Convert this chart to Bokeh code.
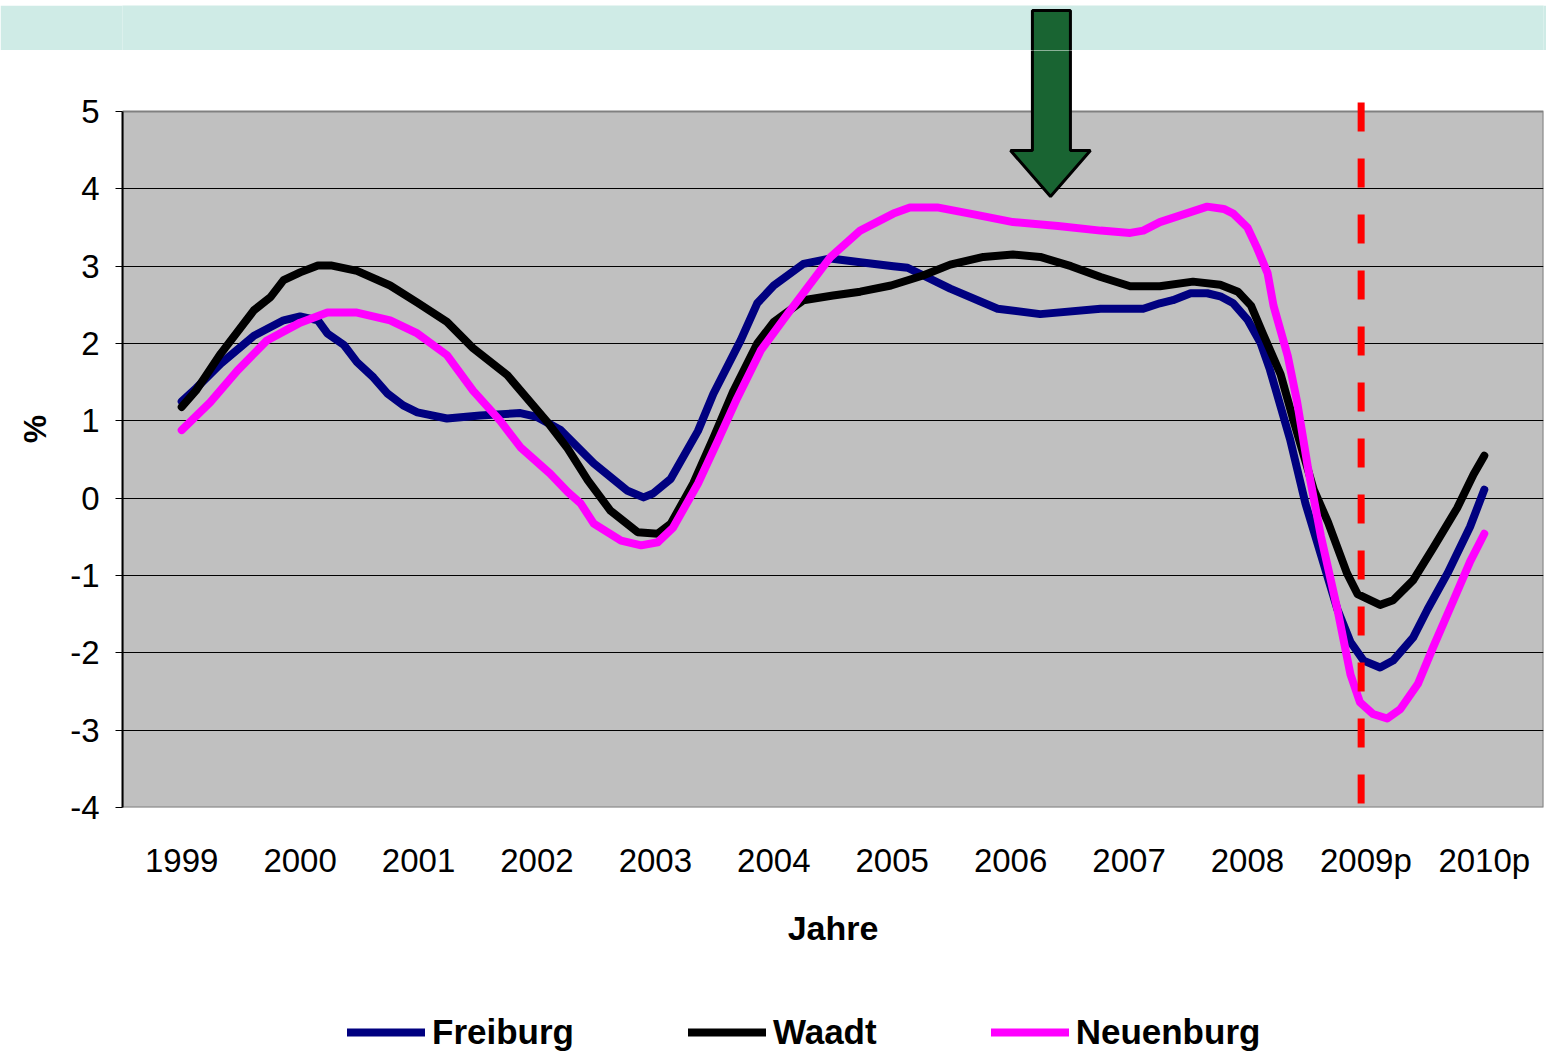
from bokeh.plotting import figure
from bokeh.layouts import column
from bokeh.models import FixedTicker, Legend, LegendItem, Range1d, Spacer
from bokeh.embed import file_html
from bokeh.resources import INLINE

# ---------------- data ----------------
years = ["1999", "2000", "2001", "2002", "2003", "2004", "2005",
         "2006", "2007", "2008", "2009p", "2010p"]
y_ticks = [-4, -3, -2, -1, 0, 1, 2, 3, 4, 5]
y_tick_labels = ["-4", "-3", "-2", "-1", "0", "1", "2", "3", "4", "5"]

# time positions (years after 1999) and growth rates (%)
freiburg_t = [0.00, 0.12, 0.33, 0.61, 0.86, 1.00, 1.15, 1.23, 1.37, 1.48,
              1.62, 1.74, 1.87, 1.99, 2.24, 2.52, 2.86, 3.00, 3.20, 3.48,
              3.76, 3.90, 3.98, 4.13, 4.36, 4.49, 4.72, 4.86, 5.00, 5.25,
              5.48, 5.73, 6.01, 6.13, 6.49, 6.89, 7.25, 7.76, 8.12, 8.26,
              8.37, 8.52, 8.66, 8.77, 8.88, 9.00, 9.11, 9.19, 9.36, 9.49,
              9.62, 9.76, 9.87, 9.98, 10.12, 10.23, 10.40, 10.52, 10.69, 10.88,
              11.00]
freiburg = [1.25, 1.42, 1.74, 2.10, 2.30, 2.35, 2.30, 2.13, 1.98, 1.76,
            1.56, 1.35, 1.20, 1.11, 1.03, 1.07, 1.10, 1.05, 0.88, 0.45,
            0.10, 0.01, 0.06, 0.25, 0.87, 1.35, 2.04, 2.52, 2.75, 3.03,
            3.10, 3.05, 3.00, 2.98, 2.71, 2.45, 2.38, 2.45, 2.45, 2.52,
            2.56, 2.65, 2.65, 2.61, 2.52, 2.31, 2.01, 1.66, 0.76, -0.07,
            -0.73, -1.44, -1.86, -2.10, -2.19, -2.10, -1.80, -1.44, -0.97, -0.37,
            0.11]

waadt_t = [0.00, 0.12, 0.33, 0.61, 0.75, 0.86, 1.00, 1.15, 1.26, 1.48,
           1.76, 1.99, 2.24, 2.46, 2.75, 3.09, 3.26, 3.43, 3.62, 3.85,
           4.02, 4.13, 4.32, 4.49, 4.66, 4.86, 5.00, 5.25, 5.50, 5.73,
           5.99, 6.26, 6.49, 6.77, 7.02, 7.25, 7.51, 7.76, 8.01, 8.26,
           8.54, 8.77, 8.92, 9.03, 9.13, 9.28, 9.39, 9.56, 9.68, 9.84,
           9.93, 10.12, 10.23, 10.40, 10.57, 10.77, 10.91, 11.00]
waadt = [1.18, 1.39, 1.87, 2.43, 2.60, 2.82, 2.92, 3.01, 3.01, 2.94,
         2.75, 2.53, 2.28, 1.94, 1.59, 0.98, 0.64, 0.23, -0.16, -0.44,
         -0.46, -0.33, 0.19, 0.78, 1.39, 2.00, 2.28, 2.56, 2.62, 2.67,
         2.75, 2.88, 3.02, 3.12, 3.15, 3.12, 3.00, 2.86, 2.74, 2.74,
         2.80, 2.76, 2.67, 2.49, 2.13, 1.60, 1.00, 0.11, -0.31, -0.97,
         -1.24, -1.38, -1.32, -1.06, -0.64, -0.13, 0.31, 0.55]

neuenburg_t = [0.00, 0.24, 0.47, 0.72, 1.00, 1.23, 1.48, 1.76, 1.99, 2.24,
               2.46, 2.69, 2.86, 3.11, 3.26, 3.37, 3.48, 3.71, 3.88, 4.02,
               4.15, 4.36, 4.53, 4.69, 4.89, 5.12, 5.48, 5.73, 6.01, 6.15,
               6.38, 6.69, 7.02, 7.40, 7.76, 8.01, 8.12, 8.26, 8.66, 8.80,
               8.88, 9.00, 9.08, 9.17, 9.22, 9.34, 9.42, 9.51, 9.62, 9.76,
               9.87, 9.95, 10.06, 10.18, 10.29, 10.44, 10.57, 10.74, 10.88, 11.00]
neuenburg = [0.88, 1.24, 1.65, 2.04, 2.27, 2.40, 2.40, 2.30, 2.13, 1.85,
             1.39, 1.00, 0.66, 0.32, 0.08, -0.07, -0.33, -0.55, -0.61, -0.57,
             -0.38, 0.19, 0.75, 1.29, 1.91, 2.39, 3.12, 3.46, 3.68, 3.76,
             3.76, 3.67, 3.57, 3.52, 3.46, 3.43, 3.46, 3.57, 3.77, 3.74,
             3.68, 3.50, 3.24, 2.91, 2.49, 1.84, 1.24, 0.40, -0.49, -1.44,
             -2.28, -2.64, -2.79, -2.85, -2.73, -2.40, -1.92, -1.32, -0.82, -0.46]

series_names = ["Freiburg", "Waadt", "Neuenburg"]
forecast_start = 9.96   # start of forecast period (2009p)

# ---------------- styles ----------------
FONT = "Liberation Sans"
COLORS = ["#000080", "#000000", "#FF00FF"]
LW = 8
X0, X1 = -0.5, 11.5              # plot frame in x
Y_TOP = 5.789                    # top of main frame (white space above plot area)
BAND_TOP = 6.371
ARROW_X = [7.184, 7.505, 7.505, 7.674, 7.337, 6.999, 7.184]
ARROW_Y = [6.306, 6.306, 4.496, 4.496, 3.901, 4.496, 4.496]
ARROW_FILL = "#196432"
BAND = "#CFEBE6"
W = 1546
L_BORDER, R_BORDER = 122, 3

# ---------------- band on top ----------------
band = figure(width=W, height=45, output_backend="svg", toolbar_location=None,
              x_range=Range1d(X0, X1), y_range=Range1d(Y_TOP, BAND_TOP),
              x_axis_type=None, y_axis_type=None,
              min_border_left=L_BORDER, min_border_right=R_BORDER,
              min_border_top=0, min_border_bottom=0)
band.background_fill_color = BAND
band.border_fill_color = BAND
band.outline_line_color = None
band.grid.visible = False
band.patch(ARROW_X[:3] + [ARROW_X[0]], [ARROW_Y[0], ARROW_Y[1], 5.0, 5.0],
           fill_color=ARROW_FILL, line_color="black", line_width=3)

# ---------------- main chart ----------------
p = figure(width=W, height=915, output_backend="svg", toolbar_location=None,
           x_range=Range1d(X0, X1), y_range=Range1d(-4, Y_TOP),
           min_border_left=L_BORDER, min_border_right=R_BORDER, min_border_top=0,
           min_border_bottom=158)
p.background_fill_color = "white"
p.border_fill_color = "white"
p.outline_line_color = None

# plot area (grey) with grey border
p.quad(left=[X0], right=[X1], bottom=[min(y_ticks)], top=[max(y_ticks)],
       fill_color="#C0C0C0", line_color="#808080", line_width=2, level="image")

# grid
p.xgrid.grid_line_color = None
p.ygrid.grid_line_color = "black"
p.ygrid.grid_line_width = 1
p.ygrid.ticker = FixedTicker(ticks=y_ticks[1:-1])

# y axis
p.yaxis.ticker = FixedTicker(ticks=y_ticks)
p.yaxis.major_label_overrides = dict(zip(y_ticks, y_tick_labels))
p.yaxis.bounds = (min(y_ticks), max(y_ticks))
p.yaxis.axis_label = "%"
p.yaxis.axis_label_text_font = FONT
p.yaxis.axis_label_text_font_style = "bold"
p.yaxis.axis_label_text_font_size = "32px"
p.yaxis.axis_label_text_color = "black"
p.yaxis.axis_label_standoff = 14
p.yaxis.major_label_text_font = FONT
p.yaxis.major_label_text_font_size = "33px"
p.yaxis.major_label_text_color = "black"
p.yaxis.major_label_standoff = 16
p.yaxis.major_tick_out = 7
p.yaxis.major_tick_in = 0
p.yaxis.minor_tick_line_color = None
p.yaxis.major_tick_line_color = "black"
p.yaxis.axis_line_color = "black"
p.yaxis.axis_line_width = 2

# x axis
p.xaxis.ticker = FixedTicker(ticks=list(range(len(years))))
p.xaxis.major_label_overrides = {i: y for i, y in enumerate(years)}
p.xaxis.axis_label = "Jahre"
p.xaxis.axis_label_text_font = FONT
p.xaxis.axis_label_text_font_style = "bold"
p.xaxis.axis_label_text_font_size = "34px"
p.xaxis.axis_label_text_color = "black"
p.xaxis.axis_label_standoff = 27
p.xaxis.major_label_text_font = FONT
p.xaxis.major_label_text_font_size = "33px"
p.xaxis.major_label_text_color = "black"
p.xaxis.major_label_standoff = 28
p.xaxis.major_tick_line_color = None
p.xaxis.minor_tick_line_color = None
p.xaxis.axis_line_color = None

# series
for t, v, c in zip([freiburg_t, waadt_t, neuenburg_t],
                   [freiburg, waadt, neuenburg], COLORS):
    p.line(t, v, line_color=c, line_width=LW, line_join="round", line_cap="round")

# forecast marker
p.line([forecast_start, forecast_start], [5.116, min(y_ticks)],
       line_color="#FF0000", line_width=7, line_dash="29 27")

# arrow
p.patch(ARROW_X, ARROW_Y, fill_color=ARROW_FILL, line_color="black", line_width=3)

# ---------------- legend strip ----------------
lg = figure(width=W, height=87, output_backend="svg", toolbar_location=None,
            x_range=Range1d(0, 1), y_range=Range1d(0, 1),
            x_axis_type=None, y_axis_type=None,
            min_border_left=L_BORDER, min_border_right=R_BORDER,
            min_border_top=0, min_border_bottom=0)
lg.outline_line_color = None
lg.grid.visible = False
lg.background_fill_color = "white"
lg.border_fill_color = "white"
items = []
for name, c in zip(series_names, COLORS):
    r = lg.line([-5, -4], [-5, -5], line_color=c, line_width=8, line_cap="round")
    items.append(LegendItem(label=name, renderers=[r]))
legend = Legend(items=items, orientation="horizontal", location=(225, 0),
                label_text_font=FONT, label_text_font_style="bold",
                label_text_font_size="35px", label_text_color="black",
                glyph_width=78, glyph_height=38, label_standoff=7,
                spacing=114, padding=0, margin=0,
                border_line_alpha=0, background_fill_alpha=0)
lg.add_layout(legend)

layout = column(Spacer(width=W, height=5), band, p, lg, spacing=0)
open("out.html", "w").write(file_html(layout, INLINE))
